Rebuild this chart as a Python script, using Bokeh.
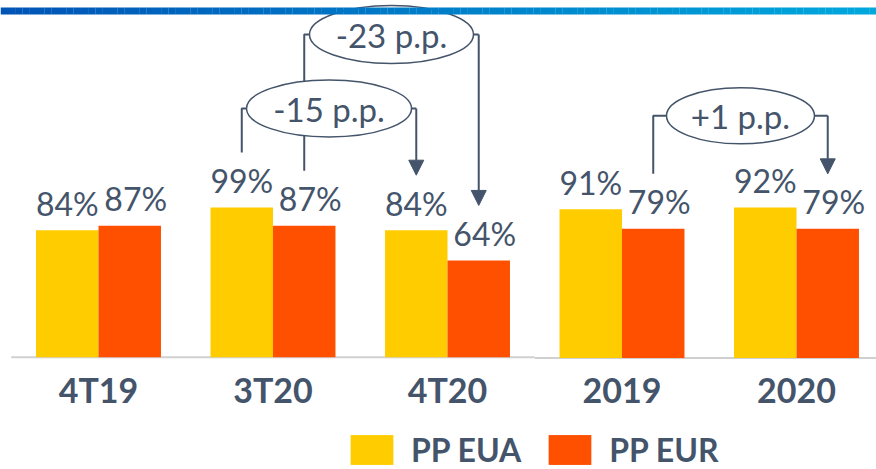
from bokeh.plotting import figure
from bokeh.models import Range1d, ColumnDataSource, Legend, LegendItem, Arrow, NormalHead
from bokeh.core.properties import value
from bokeh.embed import file_html
from bokeh.resources import INLINE

# ---------------- data ----------------
categories = ["4T19", "3T20", "4T20", "2019", "2020"]
periods = ["quarter", "quarter", "quarter", "year", "year"]
pp_eua = [84, 99, 84, 91, 92]
pp_eur = [87, 87, 64, 79, 79]
series_names = ["PP EUA", "PP EUR"]
change_labels = ["-15 p.p.", "-23 p.p.", "+1 p.p."]
change_from = [("3T20", "PP EUA"), ("3T20", "PP EUR"), ("2019", "PP EUR")]
change_to = [("4T20", "PP EUA"), ("4T20", "PP EUR"), ("2020", "PP EUR")]

# ---------------- style ----------------
W, H = 876, 469
PX_PER_CAT = 174.5
X_START = -0.5616
SCALE = {"quarter": 1.512, "year": 1.635}        # px per percentage point
BASE_PX = {"quarter": 112.3, "year": 111.5}      # baseline height above canvas bottom
RANGE_NAME = {"quarter": "default", "year": "year"}
BAR_W = 0.358
DODGE = {"PP EUA": -0.179, "PP EUR": 0.179}
COLORS = {"PP EUA": "#FFCC00", "PP EUR": "#FF5000"}
LABEL_DX = {"PP EUA": 0, "PP EUR": 6}
TEXT = "#44546A"
FONT = "Lato"
CHANGE_LEVEL_PX = [248.7, 322.7, 242.2]
ELL_W = [165, 164, 148]
ELL_H = [57, 58, 56]
GAP_PX = 55
CAT_LABEL_DY = 32
VAL_LABEL_DY = -27

values = {"PP EUA": pp_eua, "PP EUR": pp_eur}


def yrange(per):
    start = -BASE_PX[per] / SCALE[per]
    return Range1d(start, start + H / SCALE[per])


p = figure(width=W, height=H, output_backend="svg", toolbar_location=None,
           x_range=Range1d(X_START, X_START + W / PX_PER_CAT),
           y_range=yrange("quarter"),
           x_axis_location=None, y_axis_location=None,
           min_border_left=0, min_border_right=0, min_border_top=0,
           min_border_bottom=0)
p.extra_y_ranges = {"year": yrange("year")}
p.outline_line_color = None
p.xgrid.visible = False
p.ygrid.visible = False

# baselines and category labels per group
for per in ["quarter", "year"]:
    idx = [i for i, g in enumerate(periods) if g == per]
    rn = RANGE_NAME[per]
    p.segment(x0=[min(idx) - 0.5], x1=[max(idx) + 0.5], y0=[0], y1=[0],
              line_color="#D0D0D0", line_width=2, y_range_name=rn)
    p.text(x=idx, y=[0] * len(idx), text=[categories[i] for i in idx],
           text_font=value(FONT), text_font_style="bold", text_font_size="34px",
           text_color=TEXT, text_align="center", text_baseline="alphabetic",
           y_offset=CAT_LABEL_DY, y_range_name=rn)

bar_renderers = {s: [] for s in series_names}
for per in ["quarter", "year"]:
    idx = [i for i, g in enumerate(periods) if g == per]
    for s in series_names:
        src = ColumnDataSource(dict(
            x=[i + DODGE[s] for i in idx],
            top=[values[s][i] for i in idx],
            label=[f"{values[s][i]}%" for i in idx],
        ))
        r = p.vbar(x="x", top="top", bottom=0, width=BAR_W, source=src,
                   fill_color=COLORS[s], line_color=None,
                   y_range_name=RANGE_NAME[per])
        bar_renderers[s].append(r)
        p.text(x="x", y="top", text="label", source=src,
               text_font=value(FONT), text_font_size="32px", text_color=TEXT,
               text_align="center", text_baseline="alphabetic",
               x_offset=LABEL_DX[s], y_offset=VAL_LABEL_DY,
               y_range_name=RANGE_NAME[per])

# change annotations
ell_items = []
for k, lab in enumerate(change_labels):
    c1, s1 = change_from[k]
    c2, s2 = change_to[k]
    i1, i2 = categories.index(c1), categories.index(c2)
    per = periods[i1]
    sc = SCALE[per]
    rn = RANGE_NAME[per]
    x1 = i1 + DODGE[s1]
    x2 = i2 + DODGE[s2]
    y1 = values[s1][i1] + GAP_PX / sc
    y2 = values[s2][i2] + GAP_PX / sc
    lvl = CHANGE_LEVEL_PX[k] / sc
    p.line(x=[x1, x1, x2], y=[y1, lvl, lvl], line_color=TEXT, line_width=2,
           y_range_name=rn)
    p.add_layout(Arrow(end=NormalHead(size=15, fill_color=TEXT, line_color=TEXT),
                       x_start=x2, y_start=lvl, x_end=x2, y_end=y2,
                       line_color=TEXT, line_width=2, y_range_name=rn))
    ell_items.append(dict(x=(x1 + x2) / 2, y=lvl, rn=rn, k=k, lab=lab))

for e in ell_items:
    k = e["k"]
    p.ellipse(x=[e["x"]], y=[e["y"]], width=ELL_W[k], height=ELL_H[k],
              width_units="screen", height_units="screen",
              fill_color="white", line_color=TEXT, line_width=1.5,
              y_range_name=e["rn"])
    p.text(x=[e["x"]], y=[e["y"]], text=[e["lab"]],
           text_font=value(FONT), text_font_size="33px", text_color=TEXT,
           text_align="center", text_baseline="middle",
           y_range_name=e["rn"])

# top gradient band (decoration)
N = 120
x0r, x1r = p.x_range.start, p.x_range.end
ytop = p.y_range.end
sq = SCALE["quarter"]
ytop_band = ytop - 7 / sq
ybot_band = ytop - 14 / sq
c_left = (0, 84, 182)
c_right = (0, 168, 220)
lefts, rights, cols = [], [], []
for j in range(N):
    t = j / (N - 1)
    lefts.append(x0r + (x1r - x0r) * j / N)
    rights.append(x0r + (x1r - x0r) * (j + 1) / N + 0.001)
    rgb = tuple(int(round(a + (b - a) * t)) for a, b in zip(c_left, c_right))
    cols.append("#%02x%02x%02x" % rgb)
p.quad(left=lefts, right=rights, top=ytop_band, bottom=ybot_band,
       fill_color=cols, line_color=None)

legend = Legend(items=[LegendItem(label=s, renderers=bar_renderers[s]) for s in series_names],
                orientation="horizontal", location=(345, 0),
                glyph_width=53, glyph_height=37, label_height=37,
                label_standoff=13, spacing=22, padding=0, margin=0,
                border_line_color=None, background_fill_alpha=0,
                label_text_font=FONT, label_text_font_style="bold",
                label_text_font_size="32px", label_text_color=TEXT)
p.add_layout(legend, "center")

open("out.html", "w").write(file_html(p, INLINE))
